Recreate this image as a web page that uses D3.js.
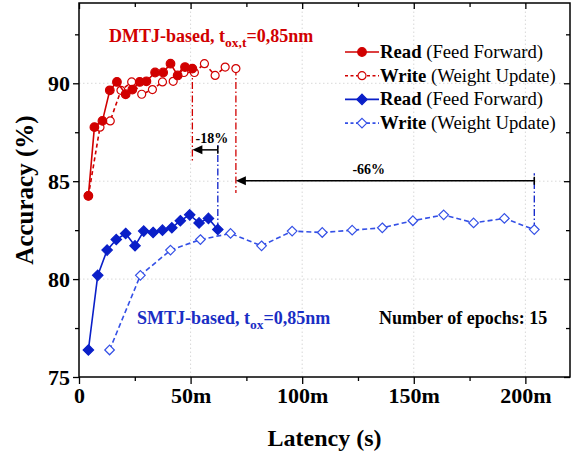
<!DOCTYPE html>
<html>
<head>
<meta charset="utf-8">
<script src="https://cdn.jsdelivr.net/npm/d3@7"></script>
<style>
  body { margin: 0; background: #fff; }
  svg { font-family: "Liberation Serif", "Times New Roman", serif; }
</style>
</head>
<body>
<svg width="580" height="457"></svg>
<script>
// accuracies are shared by read/write of one device, only latency differs
const dmtjAcc = [84.25, 87.76, 88.08, 89.64, 90.07, 89.44, 89.68, 90.07, 90.1, 90.55, 90.55, 91.0, 90.4, 90.83, 90.75];
const dmtjReadLat = [4.2, 6.9, 10.5, 13.8, 17.0, 20.9, 23.9, 27.2, 30.2, 34.1, 37.7, 41.0, 44.2, 47.5, 50.8];
const dmtjWriteLat = [4.2, 9.4, 14.0, 18.8, 23.6, 28.1, 32.9, 37.4, 42.2, 47.0, 51.7, 56.2, 61.0, 65.5, 70.3];

const smtjAcc = [76.38, 80.19, 81.48, 82.02, 82.33, 81.7, 82.45, 82.38, 82.5, 82.62, 82.98, 83.28, 82.87, 83.1, 82.53];
const smtjReadLat = [4.2, 8.4, 12.6, 16.7, 20.9, 25.1, 29.0, 33.2, 37.4, 41.6, 45.4, 49.6, 53.8, 58.0, 62.2];
const smtjWriteLat = [13.7, 27.5, 41.0, 54.4, 67.9, 81.8, 95.5, 109.0, 122.4, 135.9, 149.6, 163.4, 176.8, 190.6, 204.0];

const xTicks = [0, 50, 100, 150, 200];
const xTickLabels = ['0', '50m', '100m', '150m', '200m'];
const yTicks = [75, 80, 85, 90];

const red = '#d10000', blue = '#0a1fc8', blueLight = '#3450e6';

const svg = d3.select('svg');
const margin = { top: 3, right: 10, bottom: 80, left: 79 };
const width = 580, height = 457;

const x = d3.scaleLinear().domain([0, 220]).range([margin.left, width - margin.right]);
const y = d3.scaleLinear().domain([75, 94.1]).range([height - margin.bottom, margin.top]);

// grid
const grid = svg.append('g').attr('stroke', '#d8d8d8').attr('stroke-dasharray', '1.5,2.5').attr('stroke-width', 1);
grid.selectAll('.gx').data(xTicks.slice(1)).enter().append('line')
  .attr('x1', d => x(d)).attr('x2', d => x(d)).attr('y1', y.range()[0]).attr('y2', y.range()[1]);
grid.selectAll('.gy').data(yTicks.slice(1)).enter().append('line')
  .attr('y1', d => y(d)).attr('y2', d => y(d)).attr('x1', x.range()[0]).attr('x2', x.range()[1]);

// axes
const minorX = [25, 75, 125, 175];
const minorY = [77.5, 82.5, 87.5, 92.5];

const bottomAxis = svg.append('g').attr('transform', `translate(0,${y(75)})`)
  .call(d3.axisBottom(x).tickValues(xTicks).tickFormat((d, i) => xTickLabels[i]).tickSize(7).tickPadding(3));
bottomAxis.append('g').call(d3.axisBottom(x).tickValues(minorX).tickFormat('').tickSize(4));

const leftAxis = svg.append('g').attr('transform', `translate(${x(0)},0)`)
  .call(d3.axisLeft(y).tickValues(yTicks).tickSize(6).tickPadding(3));
leftAxis.append('g').call(d3.axisLeft(y).tickValues(minorY).tickFormat('').tickSize(4));

const topAxis = svg.append('g').attr('transform', `translate(0,${y.range()[1]})`)
  .call(d3.axisBottom(x).tickValues(xTicks).tickFormat('').tickSize(6));
topAxis.append('g').call(d3.axisBottom(x).tickValues(minorX).tickFormat('').tickSize(4));

const rightAxis = svg.append('g').attr('transform', `translate(${x.range()[1]},0)`)
  .call(d3.axisLeft(y).tickValues(yTicks).tickFormat('').tickSize(6));
rightAxis.append('g').call(d3.axisLeft(y).tickValues(minorY).tickFormat('').tickSize(4));

svg.selectAll('.domain').remove();
svg.selectAll('.tick line').attr('stroke', '#000').attr('stroke-width', 1.3);
svg.selectAll('.tick text')
  .attr('fill', '#000')
  .style('font-size', '22px')
  .style('font-weight', 'bold')
  .style('font-family', '"Liberation Serif", serif');

svg.append('rect')
  .attr('x', x.range()[0]).attr('y', y.range()[1])
  .attr('width', x.range()[1] - x.range()[0]).attr('height', y.range()[0] - y.range()[1])
  .attr('fill', 'none').attr('stroke', '#000').attr('stroke-width', 1.5);

// axis titles
svg.append('text')
  .attr('x', (x.range()[0] + x.range()[1]) / 2).attr('y', 446)
  .attr('text-anchor', 'middle')
  .style('font-size', '24px').style('font-weight', 'bold')
  .text('Latency (s)');

svg.append('text')
  .attr('transform', `translate(33,${(y.range()[0] + y.range()[1]) / 2}) rotate(-90)`)
  .attr('text-anchor', 'middle')
  .style('font-size', '25px').style('font-weight', 'bold')
  .text('Accuracy (%)');

// annotations: dash-dot drop lines and arrows
const dashDot = '7,2.5,1.5,2.5';
function vline(xv, a0, a1, color) {
  svg.append('line')
    .attr('x1', x(xv)).attr('x2', x(xv)).attr('y1', y(a0)).attr('y2', y(a1))
    .attr('stroke', color).attr('stroke-width', 1.3).attr('stroke-dasharray', dashDot);
}
const last = arr => arr[arr.length - 1];

vline(last(dmtjReadLat), last(dmtjAcc), 86.05, red);
vline(last(smtjReadLat), last(smtjAcc), 86.85, blue);
vline(last(dmtjWriteLat), last(dmtjAcc), 84.4, red);
vline(last(smtjWriteLat), last(smtjAcc), 85.4, blue);

function arrow(x0, x1, a, label, labelX) {
  const yy = y(a);
  svg.append('line')
    .attr('x1', x(x0) + 6).attr('x2', x(x1)).attr('y1', yy).attr('y2', yy)
    .attr('stroke', '#000').attr('stroke-width', 1.5);
  svg.append('path')
    .attr('d', `M${x(x0)},${yy} l10,-4.5 l0,9 z`)
    .attr('fill', '#000');
  svg.append('line')
    .attr('x1', x(x1)).attr('x2', x(x1)).attr('y1', yy - 4).attr('y2', yy + 4)
    .attr('stroke', '#000').attr('stroke-width', 1.5);
  svg.append('text')
    .attr('x', x(labelX)).attr('y', yy - 7)
    .attr('text-anchor', 'start')
    .style('font-size', '14px').style('font-weight', 'bold')
    .text(label);
}
arrow(last(dmtjReadLat), last(smtjReadLat), 86.6, '-18%', 52.2);
arrow(last(dmtjWriteLat), last(smtjWriteLat), 85.02, '-66%', 122.5);

// series
const series = [
  { lat: dmtjWriteLat, acc: dmtjAcc, color: red, dash: '4,3', shape: 'circle', filled: false },
  { lat: smtjWriteLat, acc: smtjAcc, color: blueLight, dash: '5,3', shape: 'diamond', filled: false },
  { lat: dmtjReadLat, acc: dmtjAcc, color: red, dash: null, shape: 'circle', filled: true },
  { lat: smtjReadLat, acc: smtjAcc, color: blue, dash: null, shape: 'diamond', filled: true }
];

const line = d3.line().x(d => x(d[0])).y(d => y(d[1]));

function marker(g, shape, filled, color) {
  if (shape === 'circle') {
    g.append('circle').attr('r', filled ? 4.3 : 4)
      .attr('fill', filled ? color : '#fff').attr('stroke', color).attr('stroke-width', 1.2);
  } else {
    const s = filled ? 5.2 : 4.8;
    g.append('path').attr('d', `M0,${-s} L${s},0 L0,${s} L${-s},0 Z`)
      .attr('fill', filled ? color : '#fff').attr('stroke', color).attr('stroke-width', 1.2);
  }
}

series.forEach(s => {
  const pts = s.lat.map((l, i) => [l, s.acc[i]]);
  svg.append('path').attr('d', line(pts))
    .attr('fill', 'none').attr('stroke', s.color).attr('stroke-width', 1.6)
    .attr('stroke-dasharray', s.dash);
  pts.forEach(p => {
    const g = svg.append('g').attr('transform', `translate(${x(p[0])},${y(p[1])})`);
    marker(g, s.shape, s.filled, s.color);
  });
});

// legend
const legendItems = [
  { bold: 'Read', rest: ' (Feed Forward)', color: red, dash: null, shape: 'circle', filled: true },
  { bold: 'Write', rest: ' (Weight Update)', color: red, dash: '3,2.5', shape: 'circle', filled: false },
  { bold: 'Read', rest: ' (Feed Forward)', color: blue, dash: null, shape: 'diamond', filled: true },
  { bold: 'Write', rest: ' (Weight Update)', color: blueLight, dash: '3,2.5', shape: 'diamond', filled: false }
];
legendItems.forEach((it, i) => {
  const ly = 52 + i * 23.7;
  svg.append('line').attr('x1', 345).attr('x2', 379).attr('y1', ly).attr('y2', ly)
    .attr('stroke', it.color).attr('stroke-width', 1.6).attr('stroke-dasharray', it.dash);
  const g = svg.append('g').attr('transform', `translate(362,${ly})`);
  marker(g, it.shape, it.filled, it.color);
  const t = svg.append('text').attr('x', 380).attr('y', ly + 6).style('font-size', '18.7px');
  t.append('tspan').style('font-weight', 'bold').text(it.bold);
  t.append('tspan').text(it.rest);
});

// device labels
function deviceLabel(xp, yp, color, main, sub) {
  const t = svg.append('text').attr('x', xp).attr('y', yp)
    .attr('fill', color).style('font-size', '18px').style('font-weight', 'bold');
  t.append('tspan').text(main);
  t.append('tspan').attr('dy', 5).style('font-size', '13.5px').text(sub);
  t.append('tspan').attr('dy', -5).text('=0,85nm');
}
deviceLabel(109, 42, red, 'DMTJ-based, t', 'ox,t');
deviceLabel(137, 324, '#1a2ec4', 'SMTJ-based, t', 'ox');

svg.append('text').attr('x', 379).attr('y', 324)
  .style('font-size', '18px').style('font-weight', 'bold')
  .text('Number of epochs: 15');
</script>
</body>
</html>
